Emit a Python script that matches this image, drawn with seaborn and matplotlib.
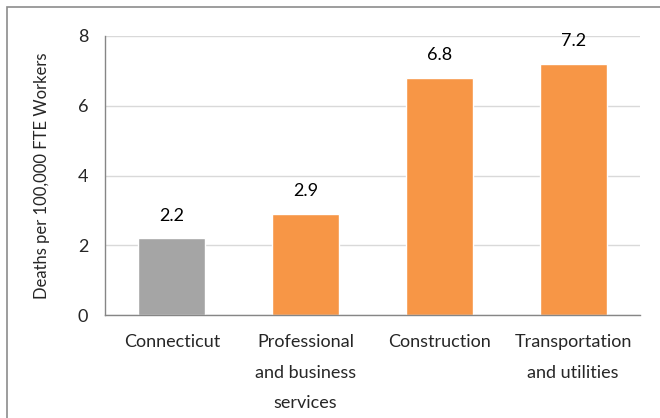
import matplotlib
matplotlib.use('Agg')

import pandas as pd
import seaborn as sns

from matplotlib import pyplot as plt
from matplotlib.patches import Rectangle

CATEGORIES = ['Connecticut', 'Professional\nand business\nservices', 'Construction', 'Transportation\nand utilities']
DEATH_RATES = [2.2, 2.9, 6.8, 7.2]
BAR_COLORS = ['#a5a5a5', '#f79646', '#f79646', '#f79646']
Y_TICKS = [0, 2, 4, 6, 8]


def main():
    df = pd.DataFrame({'Category': CATEGORIES, 'Rate': DEATH_RATES})

    sns.set_style('white')
    plt.rcParams['font.family'] = ['Lato', 'DejaVu Sans']

    fig = plt.figure(figsize=(6.6, 4.18), dpi=100)
    ax = fig.add_axes([105 / 660, 1 - 315 / 418, 535 / 660, 279 / 418])

    sns.barplot(data=df, x='Category', y='Rate', hue='Category',
                palette=BAR_COLORS, width=0.5, legend=False, ax=ax, saturation=1)

    for i, v in enumerate(DEATH_RATES):
        ax.text(i, v + 0.42, f'{v:.1f}', ha='center', va='bottom', fontsize=13, color='#000000')

    ax.set_ylim(0, 8)
    ax.set_xlim(-0.5, 3.5)
    ax.set_yticks(Y_TICKS)
    ax.set_yticklabels([str(t) for t in Y_TICKS], fontsize=13)
    ax.set_xticks(range(len(CATEGORIES)))
    ax.set_xticklabels(CATEGORIES, fontsize=13, linespacing=2.1, va='top')
    ax.set_xticks([-0.5, 0.5, 1.5, 2.5, 3.5], minor=True)
    ax.tick_params(axis='x', which='major', length=0, pad=14)
    ax.tick_params(axis='x', which='minor', length=4, width=1, color='#868686', direction='out')
    ax.tick_params(axis='y', length=4, width=1, color='#868686', direction='out', pad=8)

    ax.set_xlabel('')
    ax.set_ylabel('Deaths per 100,000 FTE Workers', fontsize=12, labelpad=20)

    ax.yaxis.grid(True, color='#d9d9d9', linewidth=1)
    ax.set_axisbelow(True)
    for side in ('top', 'right'):
        ax.spines[side].set_visible(False)
    for side in ('left', 'bottom'):
        ax.spines[side].set_color('#868686')
        ax.spines[side].set_linewidth(1)

    # outer chart frame
    fig.patches.append(Rectangle((7 / 660, -0.05), 1.0, (418 - 7) / 418 + 0.05,
                                 transform=fig.transFigure, fill=False,
                                 edgecolor='#8c8c8c', linewidth=1.2))

    fig.savefig('out.png', dpi=100)


if __name__ == '__main__':
    main()
